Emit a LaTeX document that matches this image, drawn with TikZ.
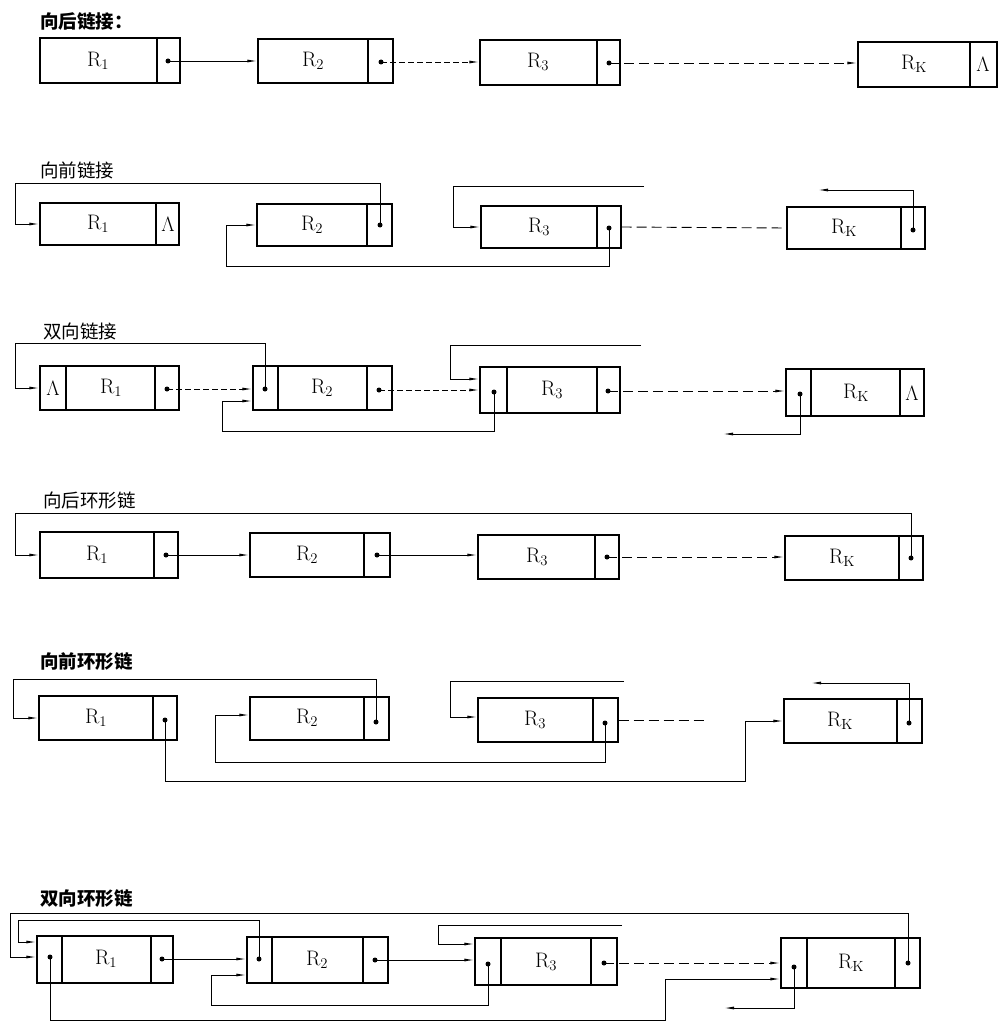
\documentclass[tikz,border=0pt]{standalone}
\usepackage{fontspec}
\newfontfamily\cjk{Noto Sans CJK SC}
\usetikzlibrary{arrows.meta,fit}
\tikzset{
 recbox/.style={draw, line width=1.4pt, inner sep=0pt},
 divl/.style={line width=1.1pt},
 lab/.style={font=\fontsize{21}{24}\selectfont, inner sep=0pt},
 ptr/.style={circle, fill, inner sep=0pt, minimum size=5pt},
 link/.style={line width=0.9pt},
 arr/.style={-{Latex[length=10pt,width=3pt]}},
 brk/.style={dash pattern=on 10pt off 5pt},
 fnt/.style={dash pattern=on 6pt off 3pt},
 ttl/.style={anchor=west, inner sep=0pt, font=\cjk\fontsize{18.5}{20}\selectfont},
}
\newcommand\record[5]{\node[recbox, fit={(#2,#3) (#4,#5)}] (#1) {};}
\newcommand\cellline[3]{\draw[divl] (#1,#2) -- (#1,#3);}
\begin{document}
\begin{tikzpicture}[x=1pt,y=-1pt]
\fill[white] (0,0) rectangle (1007,1027);
\useasboundingbox (0,0) rectangle (1007,1027);

% ---------- Row 1
\node[ttl,font=\cjk\bfseries\fontsize{18.5}{20}\selectfont] (t1) at (40,21) {向后链接：};
\record{r1a}{40}{38}{180}{83}\cellline{157}{38}{83}
\node[lab] (l1a) at (98,61) {R\textsubscript{1}};
\node[ptr] (n1a) at (168,61) {};
\record{r2a}{258}{39}{393}{83}\cellline{368}{39}{83}
\node[lab] (l2a) at (313,61) {R\textsubscript{2}};
\node[ptr] (n2a) at (381,62) {};
\record{r3a}{480}{40}{620}{85}\cellline{597}{40}{85}
\node[lab] (l3a) at (538,62) {R\textsubscript{3}};
\node[ptr] (n3a) at (609,63) {};
\record{rka}{858}{42}{997}{87}\cellline{970}{42}{87}
\node[lab] (lka) at (914,64) {R\textsubscript{K}};
\node[lab] (eka) at (983,64) {$\Lambda$};
\draw[link,arr] (n1a.center) -- (n1a.center -| r2a.west);
\draw[link,arr,fnt] (n2a.center) -- (n2a.center -| r3a.west);
\draw[link,arr,brk] (n3a.center) -- (n3a.center -| rka.west);

% ---------- Row 2
\node[ttl] (t2) at (40,170) {向前链接};
\record{r1b}{40}{203}{179}{245}\cellline{156}{203}{245}
\node[lab] (l1b) at (98,224) {R\textsubscript{1}};
\node[lab] (e1b) at (168,224) {$\Lambda$};
\record{r2b}{257}{204}{392}{246}\cellline{367}{204}{246}
\node[lab] (l2b) at (312,225) {R\textsubscript{2}};
\node[ptr] (n2b) at (380,225) {};
\record{r3b}{481}{206}{621}{248}\cellline{597}{206}{248}
\node[lab] (l3b) at (539,227) {R\textsubscript{3}};
\node[ptr] (n3b) at (609,228) {};
\record{rkb}{787}{207}{925}{249}\cellline{901}{207}{249}
\node[lab] (lkb) at (844,228) {R\textsubscript{K}};
\node[ptr] (nkb) at (913,230) {};
\coordinate (b1) at (15,183);
\draw[link,arr] (n2b.center) |- (b1) |- (r1b.west);
\coordinate (b2) at (226,266);
\draw[link,arr] (n3b.center) |- (b2) |- (r2b.west);
\coordinate (b3) at (644,186); \coordinate (b4) at (453,186);
\draw[link,arr] (b3) -- (b4) |- (r3b.west);
\draw[link,brk] (r3b.east) -- (rkb.west);
\coordinate (b5) at (818,190);
\draw[link,arr] (nkb.center) |- (b5);

% ---------- Row 3
\node[ttl] (t3) at (43,331) {双向链接};
\record{r1c}{40}{366}{179}{410}\cellline{66}{366}{410}\cellline{155}{366}{410}
\node[lab] (e1c) at (53,388) {$\Lambda$};
\node[lab] (l1c) at (111,388) {R\textsubscript{1}};
\node[ptr] (n1c) at (167,389) {};
\record{r2c}{253}{366}{392}{410}\cellline{278}{366}{410}\cellline{367}{366}{410}
\node[ptr] (p2c) at (265,389) {};
\node[lab] (l2c) at (322,388) {R\textsubscript{2}};
\node[ptr] (n2c) at (379,390) {};
\record{r3c}{480}{367}{620}{413}\cellline{507}{367}{413}\cellline{597}{367}{413}
\node[ptr] (p3c) at (494,392) {};
\node[lab] (l3c) at (552,390) {R\textsubscript{3}};
\node[ptr] (n3c) at (608,391) {};
\record{rkc}{786}{369}{924}{416}\cellline{811}{369}{416}\cellline{900}{369}{416}
\node[ptr] (pkc) at (800,394) {};
\node[lab] (lkc) at (856,393) {R\textsubscript{K}};
\node[lab] (ekc) at (912,393) {$\Lambda$};
\coordinate (c1) at (15,343);
\draw[link,arr] (p2c.center) |- (c1) |- (r1c.west);
\draw[link,arr,fnt] (n1c.center) -- (n1c.center -| r2c.west);
\coordinate (c2) at (222,431); \coordinate (c3) at (222,401);
\draw[link,arr] (p3c.center) |- (c2) -- (c3) -- (c3 -| r2c.west);
\coordinate (c4) at (641,345); \coordinate (c5) at (450,345); \coordinate (c6) at (450,379);
\draw[link,arr] (c4) -- (c5) -- (c6) -- (c6 -| r3c.west);
\draw[link,arr,fnt] (n2c.center) -- (n2c.center -| r3c.west);
\draw[link,arr,brk] (n3c.center) -- (n3c.center -| rkc.west);
\coordinate (c7) at (723,434);
\draw[link,arr] (pkc.center) |- (c7);

% ---------- Row 4
\node[ttl] (t4) at (43,500) {向后环形链};
\record{r1d}{40}{532}{178}{578}\cellline{154}{532}{578}
\node[lab] (l1d) at (97,555) {R\textsubscript{1}};
\node[ptr] (n1d) at (166,555) {};
\record{r2d}{250}{533}{390}{577}\cellline{364}{533}{577}
\node[lab] (l2d) at (307,555) {R\textsubscript{2}};
\node[ptr] (n2d) at (377,555) {};
\record{r3d}{478}{535}{619}{579}\cellline{595}{535}{579}
\node[lab] (l3d) at (537,557) {R\textsubscript{3}};
\node[ptr] (n3d) at (607,557) {};
\record{rkd}{785}{536}{923}{580}\cellline{899}{536}{580}
\node[lab] (lkd) at (842,558) {R\textsubscript{K}};
\node[ptr] (nkd) at (911,558) {};
\coordinate (d1) at (15,513);
\draw[link,arr] (nkd.center) |- (d1) |- (r1d.west);
\draw[link,arr] (n1d.center) -- (n1d.center -| r2d.west);
\draw[link,arr] (n2d.center) -- (n2d.center -| r3d.west);
\draw[link,arr,brk] (n3d.center) -- (n3d.center -| rkd.west);

% ---------- Row 5
\node[ttl,font=\cjk\bfseries\fontsize{18.5}{20}\selectfont] (t5) at (40,662) {向前环形链};
\record{r1e}{39}{696}{177}{740}\cellline{153}{696}{740}
\node[lab] (l1e) at (96,718) {R\textsubscript{1}};
\node[ptr] (n1e) at (165,720) {};
\record{r2e}{250}{697}{389}{740}\cellline{364}{697}{740}
\node[lab] (l2e) at (307,718) {R\textsubscript{2}};
\node[ptr] (n2e) at (376,722) {};
\record{r3e}{478}{698}{618}{742}\cellline{593}{698}{742}
\node[lab] (l3e) at (535,720) {R\textsubscript{3}};
\node[ptr] (n3e) at (605,723) {};
\record{rke}{784}{699}{922}{743}\cellline{897}{699}{743}
\node[lab] (lke) at (840,721) {R\textsubscript{K}};
\node[ptr] (nke) at (909,723) {};
\coordinate (e1) at (13,679);
\draw[link,arr] (n2e.center) |- (e1) |- (r1e.west);
\coordinate (e2) at (215,762); \coordinate (e3) at (215,715);
\draw[link,arr] (n3e.center) |- (e2) -- (e3) -- (e3 -| r2e.west);
\coordinate (e4) at (624,681); \coordinate (e5) at (450,681); \coordinate (e6) at (450,717);
\draw[link,arr] (e4) -- (e5) -- (e6) -- (e6 -| r3e.west);
\coordinate (e7) at (704,720);
\draw[link,brk] (r3e.east) -- (e7);
\coordinate (e8) at (745,781); \coordinate (e9) at (745,721);
\draw[link,arr] (n1e.center) |- (e8) -- (e9) -- (e9 -| rke.west);
\coordinate (e10) at (811,683);
\draw[link,arr] (nke.center) |- (e10);

% ---------- Row 6
\node[ttl,font=\cjk\bfseries\fontsize{18.5}{20}\selectfont] (t6) at (40,899) {双向环形链};
\record{r1f}{37}{936}{173}{983}\cellline{62}{936}{983}\cellline{151}{936}{983}
\node[ptr] (p1f) at (50,957) {};
\node[lab] (l1f) at (106,959) {R\textsubscript{1}};
\node[ptr] (n1f) at (162,959) {};
\record{r2f}{247}{937}{388}{983}\cellline{272}{937}{983}\cellline{363}{937}{983}
\node[ptr] (p2f) at (259,959) {};
\node[lab] (l2f) at (317,960) {R\textsubscript{2}};
\node[ptr] (n2f) at (375,960) {};
\record{r3f}{475}{938}{617}{985}\cellline{501}{938}{985}\cellline{591}{938}{985}
\node[ptr] (p3f) at (488,964) {};
\node[lab] (l3f) at (546,962) {R\textsubscript{3}};
\node[ptr] (n3f) at (604,963) {};
\record{rkf}{781}{938}{920}{988}\cellline{807}{938}{988}\cellline{895}{938}{988}
\node[ptr] (pkf) at (794,967) {};
\node[lab] (lkf) at (851,963) {R\textsubscript{K}};
\node[ptr] (nkf) at (908,963) {};
\coordinate (f1) at (10,913); \coordinate (f2) at (10,957);
\draw[link,arr] (nkf.center) |- (f1) -- (f2) -- (f2 -| r1f.west);
\coordinate (f3) at (18,920); \coordinate (f4) at (18,942);
\draw[link,arr] (p2f.center) |- (f3) -- (f4) -- (f4 -| r1f.west);
\coordinate (f5) at (665,1020); \coordinate (f6) at (665,979);
\draw[link,arr] (p1f.center) |- (f5) -- (f6) -- (f6 -| rkf.west);
\draw[link,arr] (n1f.center) -- (n1f.center -| r2f.west);
\coordinate (f7) at (211,1005); \coordinate (f8) at (211,975);
\draw[link,arr] (p3f.center) |- (f7) -- (f8) -- (f8 -| r2f.west);
\draw[link,arr] (n2f.center) -- (n2f.center -| r3f.west);
\coordinate (f9) at (622,925); \coordinate (f10) at (438,925); \coordinate (f11) at (438,944);
\draw[link,arr] (f9) -- (f10) -- (f11) -- (f11 -| r3f.west);
\draw[link,arr,brk] (n3f.center) -- (n3f.center -| rkf.west);
\coordinate (f12) at (724,1008);
\draw[link,arr] (pkf.center) |- (f12);
\end{tikzpicture}
\end{document}
